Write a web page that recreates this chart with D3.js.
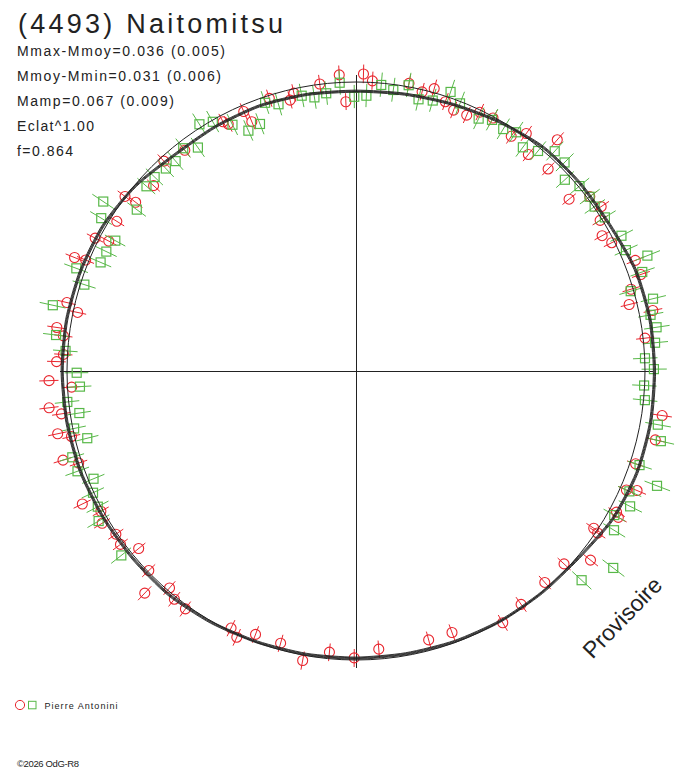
<!DOCTYPE html>
<html>
<head>
<meta charset="utf-8">
<script src="https://cdn.jsdelivr.net/npm/d3@7/dist/d3.min.js"></script>
<style>
  html, body { margin: 0; padding: 0; background: #fff; }
  svg { display: block; }
  text { font-family: "Liberation Sans", Arial, sans-serif; fill: #222; }
</style>
</head>
<body>
<svg id="chart" width="688" height="768"></svg>
<script>
// ---------------- DATA ----------------
const title = "(4493) Naitomitsu";
const statLabels = ["Mmax-Mmoy=0.036 (0.005)", "Mmoy-Mmin=0.031 (0.006)", "Mamp=0.067 (0.009)", "Eclat^1.00", "f=0.864"];
const observer = "Pierre Antonini";
const watermark = "Provisoire";
const copyright = "\u00A92026 OdG-R8";

// Session 1 (red circles): rotational phase, magnitude relative to mean, 1-sigma error
const phaseRed = [0.991,0.004,0.009,0.994,0.980,0.965,0.962,0.951,0.935,0.937,0.029,0.037,0.043,0.051,0.057,0.065,
  0.922,0.924,0.895,0.882,0.868,0.853,0.854,0.839,0.825,0.827,0.811,0.812,0.787,0.783,0.773,0.769,0.755,0.759,
  0.745,0.741,0.731,0.727,0.717,0.714,0.703,0.699,0.678,0.670,0.664,0.655,0.649,0.641,0.628,0.621,0.613,0.607,0.599,
  0.572,0.567,0.558,0.543,0.529,0.515,0.501,
  0.071,0.079,0.093,0.099,0.107,0.114,0.121,0.142,0.148,0.156,0.162,0.170,0.176,0.190,0.198,0.204,0.212,0.218,0.232,
  0.273,0.286,0.301,0.314,0.316,0.329,0.331,0.343,0.344,0.358,0.369,0.384,0.402,0.416,0.444,0.458,0.487];
const magRed = [-0.028,-0.030,-0.006,0.076,-0.001,0.016,0.039,0.011,0.024,0.073,-0.013,0.008,-0.015,0.020,0.040,0.039,
  0.025,0.042,0.037,0.017,0.056,-0.002,0.044,0.026,-0.014,0.037,-0.053,-0.012,-0.030,0.017,-0.049,-0.021,-0.039,-0.015,
  -0.066,0.016,-0.073,-0.032,-0.058,-0.011,-0.063,-0.012,-0.056,-0.008,-0.026,-0.005,-0.013,0.032,0.005,-0.064,0.011,-0.010,-0.014,
  0.012,-0.010,0.027,0.025,-0.020,0.025,0.008,
  0.008,0.005,0.029,-0.012,0.047,-0.064,0.039,0.059,-0.010,-0.023,0.008,0.031,0.011,-0.042,-0.043,0.008,0.030,-0.051,-0.007,
  -0.074,-0.066,-0.021,-0.060,-0.024,-0.027,-0.042,0.015,-0.007,-0.045,0.020,0.021,0.012,-0.009,0.040,0.040,0.038];
const errRed = 0.034;

// Session 2 (green squares)
const phaseGreen = [0.991,0.999,0.006,0.014,0.021,0.029,0.036,0.044,0.052,0.059,0.072,0.983,0.976,0.969,0.955,0.948,0.941,0.933,0.926,
  0.910,0.917,0.902,0.895,0.887,0.880,0.872,0.865,0.844,0.851,0.836,0.829,0.821,0.814,0.806,0.799,0.784,0.769,0.761,0.749,
  0.741,0.733,0.726,0.718,0.711,0.703,0.695,0.688,0.681,0.673,0.666,0.644,
  0.079,0.087,0.094,0.102,0.110,0.117,0.125,0.132,0.140,0.148,0.154,0.162,0.175,0.183,0.190,0.197,0.205,0.212,0.220,0.227,0.235,0.243,0.249,
  0.258,0.266,0.278,0.286,0.301,0.308,0.316,0.323,0.331,0.338,0.354,0.369];
const magGreen = [0.001,0.057,0.052,0.007,0.021,-0.006,0.039,0.030,-0.021,0.007,0.032,0.037,0.047,0.032,0.043,0.022,0.094,0.101,0.052,
  -0.012,0.006,0.059,0.027,0.047,0.043,0.036,0.037,-0.056,0.065,-0.030,0.059,0.047,0.044,-0.033,0.015,-0.077,-0.048,-0.008,0.037,
  0.048,-0.005,0.035,0.005,0.046,-0.028,-0.026,0.020,-0.003,-0.010,-0.033,-0.035,
  0.013,0.022,0.006,0.038,0.013,-0.027,-0.022,0.022,-0.004,-0.009,-0.003,-0.013,-0.033,-0.025,-0.088,-0.051,0.011,-0.061,-0.040,-0.054,-0.042,-0.001,-0.033,
  0.002,-0.005,-0.064,-0.086,-0.036,-0.118,-0.036,-0.061,-0.025,-0.052,-0.124,-0.068];
const errGreen = 0.046;

// Fourier fit of the lightcurve (magnitude relative to mean), sampled every 10 degrees of phase
const fitPhase = [0,0.0278,0.0556,0.0833,0.1111,0.1389,0.1667,0.1944,0.2222,0.25,0.2778,0.3056,0.3333,0.3611,0.3889,0.4167,0.4444,0.4722,
  0.5,0.5278,0.5556,0.5833,0.6111,0.6389,0.6667,0.6944,0.7222,0.75,0.7778,0.8056,0.8333,0.8611,0.8889,0.9167,0.9444,0.9722];
const fitMag = [0.035,0.030,0.020,0.006,-0.010,-0.012,-0.014,-0.030,-0.035,-0.035,-0.037,-0.036,-0.027,-0.006,-0.001,0.001,0.004,0.007,
  0.007,0.005,0.002,-0.004,-0.010,-0.009,-0.012,-0.016,-0.017,-0.018,-0.018,-0.015,-0.010,0.004,0.026,0.027,0.026,0.031];
const fitSpread = [-0.004,-0.0013,0.0013,0.004];

const meanFlux = 1;          // reference circle (mean brightness)
const axisExtent = 1.027;    // length of the cross-hair arms, in flux units

// ---------------- DRAWING ----------------
const svg = d3.select("#chart");
const cx = 356, cy = 371, R0 = 289;
const red = "#e8262e", green = "#58b848", ink = "#222";

const rScale = d3.scaleLinear().domain([0, 1]).range([0, R0]);
const aScale = d3.scaleLinear().domain([0, 1]).range([0, 2 * Math.PI]);
const flux = m => Math.pow(10, -0.4 * m);
const xy = (p, f) => {
  const a = aScale(p), r = rScale(f);
  return [cx + r * Math.sin(a), cy - r * Math.cos(a)];
};

const g = svg.append("g");

// cross-hair axes
[[0, 0.5], [0.25, 0.75]].forEach(([p1, p2]) => {
  const a = xy(p1, axisExtent), b = xy(p2, axisExtent);
  g.append("line").attr("x1", a[0] + 0.5).attr("y1", a[1] + 0.5).attr("x2", b[0] + 0.5).attr("y2", b[1] + 0.5)
    .attr("stroke", ink).attr("stroke-width", 1).attr("shape-rendering", "crispEdges");
});

const redData = phaseRed.map((p, i) => ({ p, m: magRed[i], e: errRed }));
const greenData = phaseGreen.map((p, i) => ({ p, m: magGreen[i], e: errGreen }));

function drawBars(data, color) {
  g.append("g").selectAll("line").data(data).join("line")
    .attr("x1", d => xy(d.p, flux(d.m - d.e))[0])
    .attr("y1", d => xy(d.p, flux(d.m - d.e))[1])
    .attr("x2", d => xy(d.p, flux(d.m + d.e))[0])
    .attr("y2", d => xy(d.p, flux(d.m + d.e))[1])
    .attr("stroke", color).attr("stroke-width", 1);
}

drawBars(redData, red);
g.append("g").selectAll("circle").data(redData).join("circle")
  .attr("cx", d => xy(d.p, flux(d.m))[0])
  .attr("cy", d => xy(d.p, flux(d.m))[1])
  .attr("r", 5).attr("fill", "none").attr("stroke", red).attr("stroke-width", 1.1);

drawBars(greenData, green);
const sq = 9;
g.append("g").selectAll("rect").data(greenData).join("rect")
  .attr("x", d => xy(d.p, flux(d.m))[0] - sq / 2)
  .attr("y", d => xy(d.p, flux(d.m))[1] - sq / 2)
  .attr("width", sq).attr("height", sq)
  .attr("fill", "none").attr("stroke", green).attr("stroke-width", 1.2);

// reference circle
g.append("circle").attr("cx", cx).attr("cy", cy).attr("r", rScale(meanFlux))
  .attr("fill", "none").attr("stroke", ink).attr("stroke-width", 1);

// fit bundle
const fitPts = fitPhase.map((p, i) => ({ p, m: fitMag[i] }));
fitSpread.forEach(off => {
  const line = d3.lineRadial()
    .angle(d => aScale(d.p))
    .radius(d => rScale(flux(d.m + off)))
    .curve(d3.curveCardinalClosed.tension(0.3));
  g.append("path").attr("transform", `translate(${cx},${cy})`)
    .attr("d", line(fitPts))
    .attr("fill", "none").attr("stroke", ink).attr("stroke-width", 0.9);
});

// texts
svg.append("text").attr("x", 18).attr("y", 32.5).attr("font-size", 27)
  .attr("textLength", 265).attr("lengthAdjust", "spacing").text(title);

const statY = [56, 81, 106, 130.5, 155.5];
const statW = [208, 204, 157, 77, 56];
statLabels.forEach((t, i) => {
  svg.append("text").attr("x", 17).attr("y", statY[i]).attr("font-size", 14)
    .attr("textLength", statW[i]).attr("lengthAdjust", "spacing").text(t);
});

svg.append("text").attr("transform", "translate(628,623) rotate(-46)")
  .attr("text-anchor", "middle").attr("font-size", 23).text(watermark);

// legend
svg.append("circle").attr("cx", 20).attr("cy", 705).attr("r", 4.6)
  .attr("fill", "none").attr("stroke", red).attr("stroke-width", 1);
svg.append("rect").attr("x", 28.5).attr("y", 701.3).attr("width", 7.5).attr("height", 7.5)
  .attr("fill", "none").attr("stroke", green).attr("stroke-width", 1);
svg.append("text").attr("x", 44.5).attr("y", 708.7).attr("font-size", 9)
  .attr("textLength", 73).attr("lengthAdjust", "spacing").text(observer);

svg.append("text").attr("x", 17).attr("y", 766.5).attr("font-size", 9.5)
  .attr("textLength", 62).attr("lengthAdjust", "spacing").text(copyright);
</script>
</body>
</html>
